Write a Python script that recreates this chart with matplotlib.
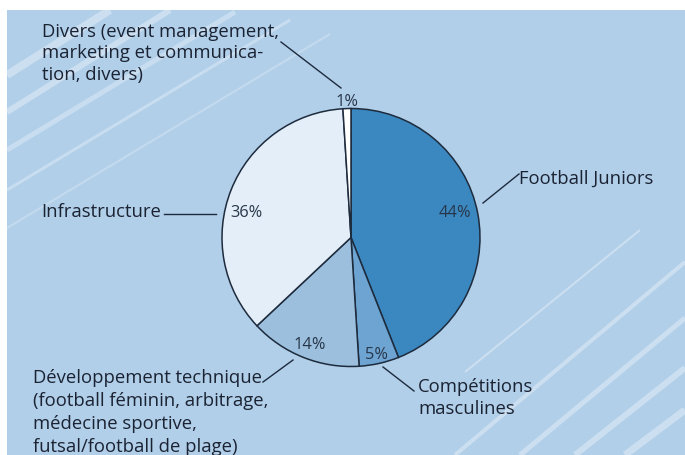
import matplotlib
matplotlib.use("Agg")
import matplotlib.pyplot as plt
from matplotlib.patches import Rectangle
import numpy as np

# ---- data ----
categories = ["Football Juniors", "Compétitions\nmasculines",
              "Développement technique\n(football féminin, arbitrage,\nmédecine sportive,\nfutsal/football de plage)",
              "Infrastructure",
              "Divers (event management,\nmarketing et communica-\ntion, divers)"]
shares = [44, 5, 14, 36, 1]
pct_labels = ["44%", "5%", "14%", "36%", "1%"]
colors = ["#3b87bf", "#6da4d2", "#9bbfdd", "#e3eef8", "#ffffff"]

W, H = 685, 455
plt.rcParams['font.family'] = ['Open Sans', 'DejaVu Sans']
fig = plt.figure(figsize=(W / 100, H / 100), dpi=100, facecolor="white")
ax = fig.add_axes([0, 0, 1, 1])

def P(x, y):
    return x, H - y

# background panel
bg = Rectangle(P(7, 455), W - 7, 445, facecolor="#b1cfe9", edgecolor="none", zorder=0)
ax.add_patch(bg)

# decorative stripes (image coords)
stripes = [
    (7, 75, 110, 10, 8, 0.35), (7, 112, 170, 10, 6, 0.35), (7, 150, 235, 12, 5, 0.3),
    (7, 190, 290, 20, 3, 0.3), (7, 228, 330, 34, 2, 0.25),
    (465, 372, 640, 230, 2, 0.35), (455, 455, 685, 262, 4, 0.35),
    (520, 455, 685, 318, 5, 0.35), (575, 455, 685, 368, 6, 0.35),
    (625, 455, 685, 410, 7, 0.35),
]
for x0, y0, x1, y1, lw, a in stripes:
    xs, ys = zip(P(x0, y0), P(x1, y1))
    ln, = ax.plot(xs, ys, color="white", lw=lw * 0.72, alpha=a, zorder=1,
                  solid_capstyle="butt")
    ln.set_clip_path(bg)

# pie
cx, cy = P(351, 237.5)
R = 129
wedges, _ = ax.pie(shares, colors=colors, startangle=90, counterclock=False,
                   center=(cx, cy), radius=R, frame=True,
                   wedgeprops=dict(edgecolor="#1d2b3d", linewidth=1.1))
for w in wedges:
    w.set_zorder(3)
ax.set_xlim(0, W)
ax.set_ylim(0, H)
ax.set_aspect("equal")
ax.axis("off")

# percentage labels (angle deg, radius fraction)
pct_pos = [(14.3, 0.835), (-77.3, 0.915), (-111.2, 0.877), (165.7, 0.835), (91.8, 1.065)]
for lab, (ang, rf) in zip(pct_labels, pct_pos):
    t = np.deg2rad(ang)
    ax.text(cx + rf * R * np.cos(t), cy + rf * R * np.sin(t), lab,
            ha="center", va="center_baseline", fontsize=11.8, color="#28364a",
            zorder=5)

# category labels (image coords: x, baseline y of first line, line step px)
txt_color = "#1b2333"
label_pos = [(519, 184, 22), (418, 392, 21.5), (33, 383, 23), (41, 217, 22), (42, 37, 21.5)]
for lab, (x, y, step) in zip(categories, label_pos):
    for i, line in enumerate(lab.split("\n")):
        X, Y = P(x, y + i * step)
        ax.text(X, Y, line, ha="left", va="baseline", fontsize=13.3,
                color=txt_color, zorder=5)

# leader lines (image coords)
leaders = [((483, 203), (519, 174)), ((383, 367), (414, 391)),
           ((263, 382), (293, 360)), ((164, 214), (216, 214)),
           ((281, 42), (341, 88))]
for a, b in leaders:
    xs, ys = zip(P(*a), P(*b))
    ax.plot(xs, ys, color="#1d2b3d", lw=1.0, zorder=4)

fig.savefig("out.png", dpi=100, facecolor="white")
